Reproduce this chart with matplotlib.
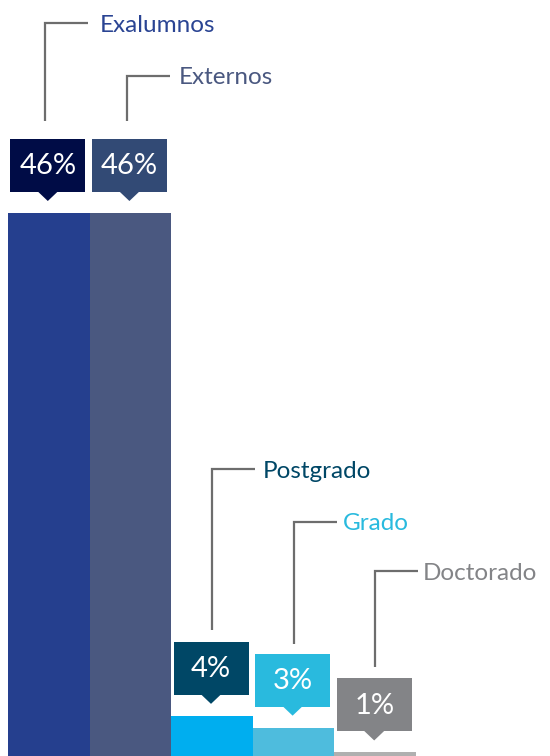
import matplotlib
matplotlib.use('Agg')
from matplotlib import pyplot as plt
from matplotlib.patches import Rectangle, Polygon

plt.rcParams['font.family'] = ['Lato', 'DejaVu Sans']

# data
categories = ['Exalumnos', 'Externos', 'Postgrado', 'Grado', 'Doctorado']
heights = [46, 46, 3.4, 2.4, 0.3]
pct_labels = ['46%', '46%', '4%', '3%', '1%']

bar_colors = ['#253f8e', '#4a5880', '#00aeef', '#4ebcdd', '#b0b0b0']
box_colors = ['#000c46', '#324a75', '#004766', '#29bade', '#838487']
text_colors = ['#2a4493', '#4a5880', '#004766', '#29bade', '#838487']
label_y_px = [23, 76, 469, 522, 571]
line_dx_px = [-4, -3, 0, 0, 0]
line_gap_px = [18, 18, 12, 10, 11]
text_gap_px = [14, 10, 10, 8, 7]

W, H = 550, 756
bar_px = 81.6
left_px = 8
px_per_unit = 543 / 46

fig = plt.figure(figsize=(W / 100, H / 100), dpi=100)
ax = fig.add_axes([0, 0, 1, 1])
ax.set_xlim(-0.5 - left_px / bar_px, -0.5 + (W - left_px) / bar_px)
ax.set_ylim(0, H / px_per_unit)
ax.axis('off')

def dx(p):
    ''' pixel -> data units along x '''
    return p / bar_px

def dy(p):
    ''' pixel -> data units along y '''
    return p / px_per_unit

def y_of_px(p):
    ''' absolute pixel row (from top) -> data y '''
    return (H - p) / px_per_unit

xs = list(range(len(categories)))
ax.bar(xs, heights, width=1.0, color=bar_colors, linewidth=0)

for i, x in enumerate(xs):
    top = heights[i]
    # box with pointer
    box_bottom = top + dy(21)
    box_top = top + dy(74)
    bw = dx(75)
    cx = x - dx(1)
    ax.add_patch(Rectangle((cx - bw / 2, box_bottom), bw, box_top - box_bottom,
                           color=box_colors[i], lw=0))
    tip = top + dy(12)
    ax.add_patch(Polygon([(cx - dx(10), box_bottom + dy(0.5)), (cx + dx(10), box_bottom + dy(0.5)),
                          (cx, tip)], closed=True, color=box_colors[i], lw=0))
    ax.text(cx, (box_bottom + box_top) / 2 - dy(1), pct_labels[i], color='white',
            fontsize=21, ha='center', va='center')
    # leader line
    lx = x + dx(line_dx_px[i])
    ly = y_of_px(label_y_px[i])
    ax.plot([lx, lx, lx + dx(43)], [box_top + dy(line_gap_px[i]), ly, ly],
            color='#6d6d6d', lw=1.6, solid_capstyle='butt', solid_joinstyle='miter')
    ax.text(lx + dx(43 + text_gap_px[i] - 2), ly - dy(2), categories[i], color=text_colors[i],
            fontsize=17.5, ha='left', va='center')

plt.savefig('out.png', dpi=100)
